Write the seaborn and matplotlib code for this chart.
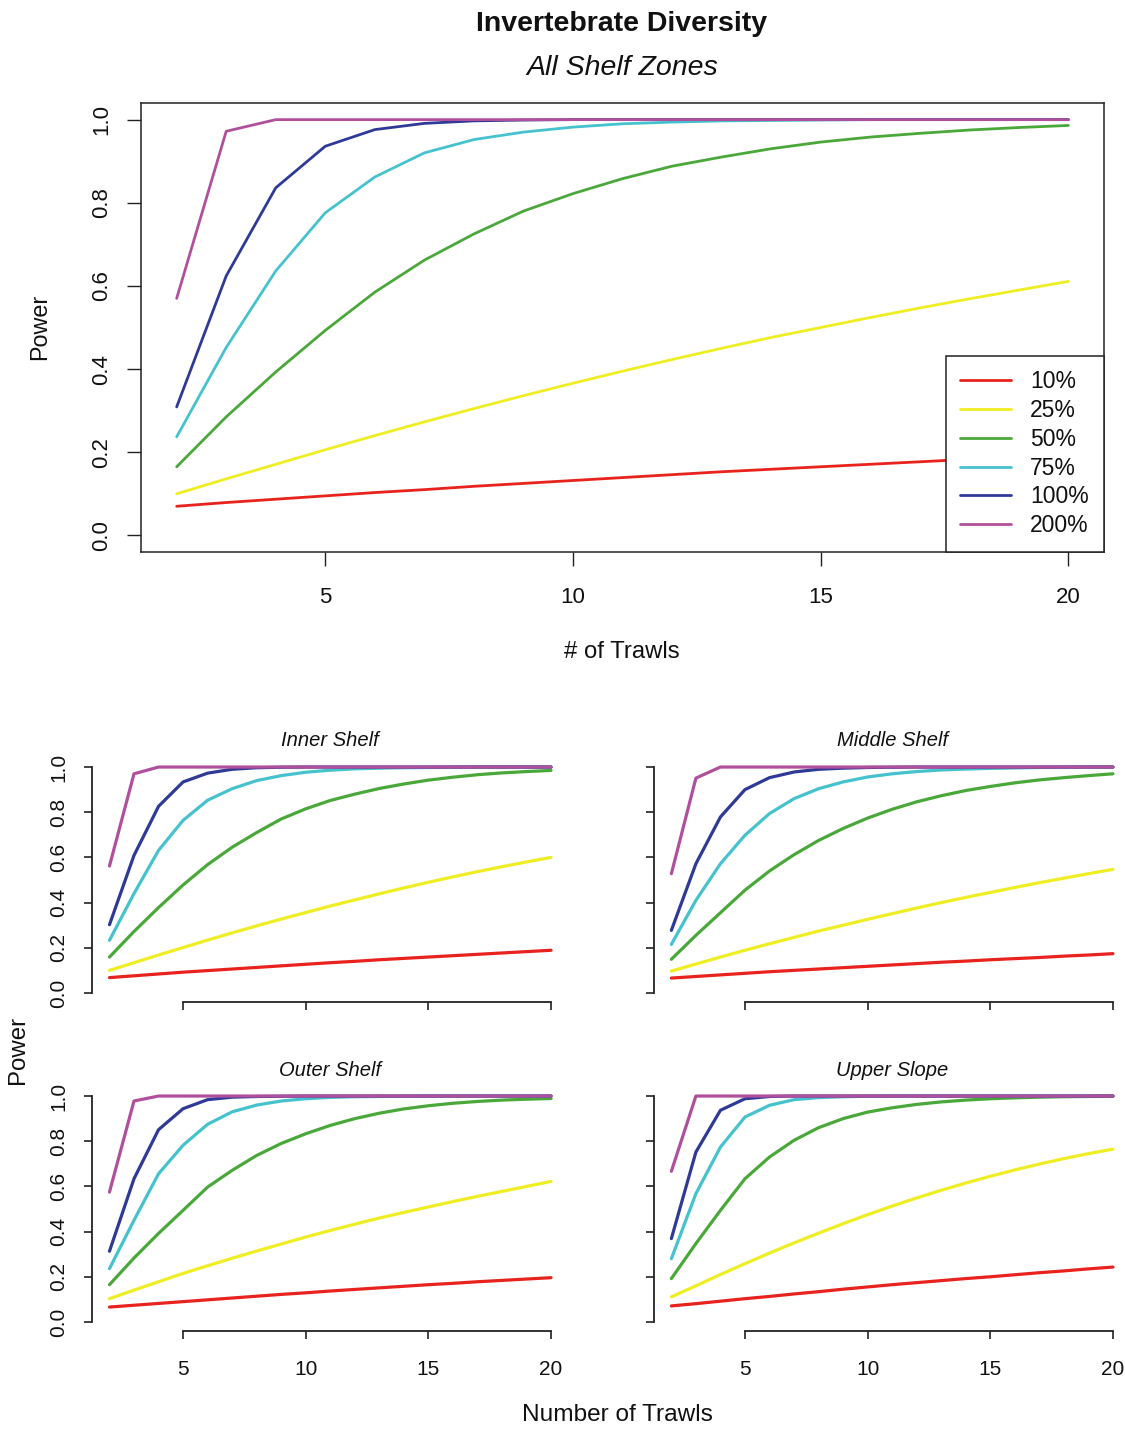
import numpy as np
import pandas as pd
import matplotlib
matplotlib.use("Agg")
import matplotlib.pyplot as plt
import seaborn as sns
from matplotlib.lines import Line2D

# ---------------- data ----------------
trawls = list(range(2, 21))
effects = ["10%", "25%", "50%", "75%", "100%", "200%"]
colors = ["#E8231E", "#EEEE22", "#4AA83A", "#45C2CE", "#2E3A96", "#B0509C"]

# All shelf zones
all_10 = [0.070, 0.079, 0.087, 0.095, 0.103, 0.110, 0.118, 0.125, 0.132, 0.139, 0.146, 0.153, 0.159, 0.165, 0.171, 0.177, 0.183, 0.188, 0.193]
all_25 = [0.100, 0.136, 0.171, 0.206, 0.240, 0.273, 0.305, 0.336, 0.366, 0.395, 0.423, 0.450, 0.476, 0.500, 0.524, 0.547, 0.569, 0.590, 0.611]
all_50 = [0.165, 0.285, 0.393, 0.493, 0.585, 0.662, 0.725, 0.780, 0.822, 0.858, 0.888, 0.910, 0.930, 0.946, 0.958, 0.967, 0.975, 0.981, 0.986]
all_75 = [0.237, 0.452, 0.636, 0.776, 0.862, 0.920, 0.952, 0.970, 0.982, 0.990, 0.994, 0.997, 0.998, 0.999, 1.0, 1.0, 1.0, 1.0, 1.0]
all_100 = [0.309, 0.624, 0.836, 0.936, 0.976, 0.991, 0.997, 0.999, 1.0, 1.0, 1.0, 1.0, 1.0, 1.0, 1.0, 1.0, 1.0, 1.0, 1.0]
all_200 = [0.570, 0.972, 1.0, 1.0, 1.0, 1.0, 1.0, 1.0, 1.0, 1.0, 1.0, 1.0, 1.0, 1.0, 1.0, 1.0, 1.0, 1.0, 1.0]

# Inner shelf
inner_10 = [0.068, 0.076, 0.084, 0.092, 0.099, 0.106, 0.113, 0.120, 0.127, 0.134, 0.140, 0.147, 0.153, 0.159, 0.165, 0.171, 0.177, 0.183, 0.189]
inner_25 = [0.100, 0.134, 0.168, 0.201, 0.234, 0.266, 0.297, 0.327, 0.356, 0.385, 0.412, 0.439, 0.465, 0.490, 0.514, 0.537, 0.559, 0.580, 0.600]
inner_50 = [0.159, 0.272, 0.378, 0.478, 0.568, 0.645, 0.710, 0.770, 0.815, 0.852, 0.880, 0.905, 0.925, 0.942, 0.955, 0.966, 0.974, 0.980, 0.985]
inner_75 = [0.233, 0.440, 0.631, 0.764, 0.853, 0.904, 0.940, 0.962, 0.977, 0.986, 0.992, 0.995, 0.997, 0.998, 0.999, 1.0, 1.0, 1.0, 1.0]
inner_100 = [0.302, 0.609, 0.826, 0.934, 0.973, 0.990, 0.997, 0.999, 1.0, 1.0, 1.0, 1.0, 1.0, 1.0, 1.0, 1.0, 1.0, 1.0, 1.0]
inner_200 = [0.562, 0.970, 1.0, 1.0, 1.0, 1.0, 1.0, 1.0, 1.0, 1.0, 1.0, 1.0, 1.0, 1.0, 1.0, 1.0, 1.0, 1.0, 1.0]

# Middle shelf
middle_10 = [0.066, 0.073, 0.080, 0.087, 0.094, 0.100, 0.106, 0.112, 0.118, 0.124, 0.130, 0.136, 0.141, 0.147, 0.152, 0.157, 0.163, 0.168, 0.174]
middle_25 = [0.097, 0.128, 0.159, 0.189, 0.218, 0.246, 0.274, 0.300, 0.326, 0.351, 0.376, 0.400, 0.423, 0.445, 0.467, 0.488, 0.508, 0.528, 0.547]
middle_50 = [0.149, 0.255, 0.355, 0.455, 0.540, 0.612, 0.675, 0.728, 0.774, 0.813, 0.846, 0.873, 0.896, 0.914, 0.930, 0.943, 0.953, 0.962, 0.970]
middle_75 = [0.215, 0.410, 0.572, 0.698, 0.794, 0.860, 0.904, 0.934, 0.956, 0.970, 0.980, 0.987, 0.991, 0.994, 0.996, 0.998, 0.999, 1.0, 1.0]
middle_100 = [0.277, 0.572, 0.779, 0.900, 0.953, 0.978, 0.990, 0.995, 0.998, 0.999, 1.0, 1.0, 1.0, 1.0, 1.0, 1.0, 1.0, 1.0, 1.0]
middle_200 = [0.528, 0.951, 1.0, 1.0, 1.0, 1.0, 1.0, 1.0, 1.0, 1.0, 1.0, 1.0, 1.0, 1.0, 1.0, 1.0, 1.0, 1.0, 1.0]

# Outer shelf
outer_10 = [0.066, 0.074, 0.082, 0.090, 0.098, 0.106, 0.114, 0.122, 0.129, 0.137, 0.144, 0.151, 0.158, 0.165, 0.171, 0.178, 0.184, 0.190, 0.196]
outer_25 = [0.103, 0.141, 0.178, 0.215, 0.249, 0.282, 0.314, 0.345, 0.376, 0.405, 0.433, 0.460, 0.485, 0.509, 0.533, 0.556, 0.578, 0.600, 0.622]
outer_50 = [0.165, 0.283, 0.392, 0.494, 0.597, 0.671, 0.737, 0.790, 0.833, 0.870, 0.900, 0.924, 0.943, 0.957, 0.968, 0.976, 0.982, 0.986, 0.989]
outer_75 = [0.236, 0.450, 0.656, 0.782, 0.875, 0.930, 0.960, 0.978, 0.988, 0.994, 0.997, 0.998, 0.999, 1.0, 1.0, 1.0, 1.0, 1.0, 1.0]
outer_100 = [0.313, 0.634, 0.851, 0.944, 0.984, 0.995, 0.998, 0.999, 1.0, 1.0, 1.0, 1.0, 1.0, 1.0, 1.0, 1.0, 1.0, 1.0, 1.0]
outer_200 = [0.575, 0.978, 1.0, 1.0, 1.0, 1.0, 1.0, 1.0, 1.0, 1.0, 1.0, 1.0, 1.0, 1.0, 1.0, 1.0, 1.0, 1.0, 1.0]

# Upper slope
upper_10 = [0.071, 0.081, 0.092, 0.103, 0.113, 0.124, 0.134, 0.145, 0.155, 0.165, 0.174, 0.183, 0.192, 0.200, 0.209, 0.218, 0.226, 0.235, 0.243]
upper_25 = [0.111, 0.160, 0.210, 0.258, 0.305, 0.350, 0.393, 0.435, 0.475, 0.513, 0.549, 0.583, 0.615, 0.645, 0.673, 0.699, 0.723, 0.745, 0.765]
upper_50 = [0.192, 0.347, 0.494, 0.634, 0.730, 0.804, 0.860, 0.900, 0.929, 0.948, 0.963, 0.974, 0.982, 0.988, 0.992, 0.995, 0.997, 0.998, 0.999]
upper_75 = [0.280, 0.568, 0.774, 0.907, 0.959, 0.984, 0.993, 0.997, 0.999, 1.0, 1.0, 1.0, 1.0, 1.0, 1.0, 1.0, 1.0, 1.0, 1.0]
upper_100 = [0.369, 0.752, 0.937, 0.988, 0.998, 1.0, 1.0, 1.0, 1.0, 1.0, 1.0, 1.0, 1.0, 1.0, 1.0, 1.0, 1.0, 1.0, 1.0]
upper_200 = [0.667, 1.0, 1.0, 1.0, 1.0, 1.0, 1.0, 1.0, 1.0, 1.0, 1.0, 1.0, 1.0, 1.0, 1.0, 1.0, 1.0, 1.0, 1.0]

x_ticks = [5, 10, 15, 20]
y_ticks = [0.0, 0.2, 0.4, 0.6, 0.8, 1.0]
y_tick_labels = ["0.0", "0.2", "0.4", "0.6", "0.8", "1.0"]

zones = {
    "All Shelf Zones": [all_10, all_25, all_50, all_75, all_100, all_200],
    "Inner Shelf": [inner_10, inner_25, inner_50, inner_75, inner_100, inner_200],
    "Middle Shelf": [middle_10, middle_25, middle_50, middle_75, middle_100, middle_200],
    "Outer Shelf": [outer_10, outer_25, outer_50, outer_75, outer_100, outer_200],
    "Upper Slope": [upper_10, upper_25, upper_50, upper_75, upper_100, upper_200],
}


def long_frame(series):
    rows = []
    for eff, vals in zip(effects, series):
        for t, v in zip(trawls, vals):
            rows.append({"Trawls": t, "Power": v, "Effect": eff})
    return pd.DataFrame(rows)


# ---------------- style ----------------
sns.set_theme(style="white")
plt.rcParams["font.family"] = ["Liberation Sans", "DejaVu Sans"]
plt.rcParams["axes.edgecolor"] = "#222222"
plt.rcParams["xtick.color"] = "#222222"
plt.rcParams["ytick.color"] = "#222222"
plt.rcParams["text.color"] = "#111111"

W, H = 1125, 1429
fig = plt.figure(figsize=(W / 100, H / 100), dpi=100)
fig.patch.set_facecolor("white")


def box(l, t, r, b):
    return [l / W, 1 - b / H, (r - l) / W, (b - t) / H]


palette = dict(zip(effects, colors))

# ---------------- main plot ----------------
ax = fig.add_axes(box(141, 103, 1104, 552))
sns.lineplot(data=long_frame(zones["All Shelf Zones"]), x="Trawls", y="Power",
             hue="Effect", hue_order=effects, palette=palette, linewidth=2.0,
             errorbar=None, legend=False, ax=ax)
ax.set_xlim(1.28, 20.72)
ax.set_ylim(-0.04, 1.04)
ax.set_xticks(x_ticks)
ax.set_xticklabels([str(v) for v in x_ticks])
ax.set_yticks(y_ticks)
ax.set_yticklabels(y_tick_labels, rotation=90, va="center")
ax.set_xlabel("")
ax.set_ylabel("")
for s in ax.spines.values():
    s.set_visible(True)
    s.set_linewidth(1.1)
    s.set_color("#222222")
ax.tick_params(axis="both", which="major", direction="out", length=10, width=1.0,
               labelsize=16, bottom=True, left=True, top=False, right=False,
               colors="#222222", labelcolor="#111111")
ax.tick_params(axis="x", pad=15)
ax.tick_params(axis="y", pad=11)

handles = [Line2D([0], [0], color=c, lw=2.0) for c in colors]
leg = ax.legend(handles, effects, loc="lower right", borderaxespad=0,
                fancybox=False, framealpha=1, edgecolor="#222222",
                fontsize=16.5, handlelength=2.2, handletextpad=0.85,
                labelspacing=0.25, borderpad=0.65)
leg.get_frame().set_linewidth(1.1)

fig.text(622 / W, 1 - 24 / H, "Invertebrate Diversity", ha="center", va="center",
         fontsize=20.5, fontweight="bold")
fig.text(622 / W, 1 - 68 / H, "All Shelf Zones", ha="center", va="center",
         fontsize=20.5, fontstyle="italic")
fig.text(40 / W, 1 - 327 / H, "Power", ha="center", va="center", rotation=90, fontsize=16.8)
fig.text(622 / W, 1 - 652 / H, "# of Trawls", ha="center", va="center", fontsize=17.2)

# ---------------- panels ----------------
panels = [
    ("Inner Shelf", (91.8, 758, 568.7, 1002), True, False),
    ("Middle Shelf", (653.7, 758, 1130.6, 1002), False, False),
    ("Outer Shelf", (91.8, 1087, 568.7, 1331), True, True),
    ("Upper Slope", (653.7, 1087, 1130.6, 1331), False, True),
]
for name, (l, t, r, b), ylab, xlab in panels:
    a = fig.add_axes(box(l, t, r, b))
    a.patch.set_alpha(0)
    sns.lineplot(data=long_frame(zones[name]), x="Trawls", y="Power",
                 hue="Effect", hue_order=effects, palette=palette, linewidth=2.3,
                 errorbar=None, legend=False, ax=a)
    a.set_xlim(1.28, 20.72)
    a.set_ylim(-0.04, 1.04)
    a.set_xticks(x_ticks)
    a.set_yticks(y_ticks)
    a.set_xticklabels([str(v) for v in x_ticks])
    a.set_yticklabels(y_tick_labels, rotation=90, va="center")
    a.set_xlabel("")
    a.set_ylabel("")
    a.spines["top"].set_visible(False)
    a.spines["right"].set_visible(False)
    a.spines["left"].set_bounds(0, 1)
    a.spines["bottom"].set_bounds(5, 20)
    for sp in ("left", "bottom"):
        a.spines[sp].set_linewidth(1.3)
        a.spines[sp].set_color("#222222")
    a.tick_params(axis="both", which="major", direction="out", length=6, width=1.2,
                  labelsize=15, bottom=True, left=True, top=False, right=False,
                  colors="#222222", labelcolor="#111111")
    a.tick_params(axis="x", pad=15, labelbottom=xlab)
    a.tick_params(axis="y", pad=11, labelleft=ylab)
    cx = (l + r) / 2
    fig.text(cx / W, 1 - (t - 17) / H, name, ha="center", va="center",
             fontsize=14.5, fontstyle="italic")

fig.text(18 / W, 1 - 1050 / H, "Power", ha="center", va="center", rotation=90, fontsize=17.3)
fig.text(617 / W, 1 - 1415 / H, "Number of Trawls", ha="center", va="center", fontsize=17.6)

fig.savefig("out.png", dpi=100, facecolor="white")
